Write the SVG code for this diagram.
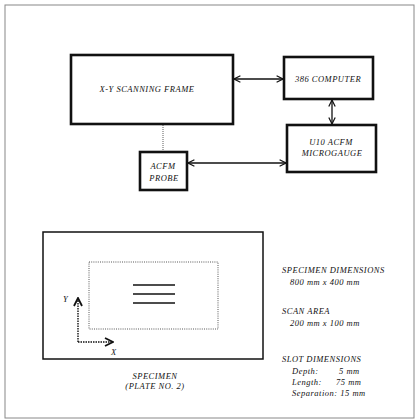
<svg xmlns="http://www.w3.org/2000/svg" width="418" height="420" viewBox="0 0 418 420">
<defs>
<style>
.box{fill:#fff;stroke:#111;stroke-width:2.6}
.t{font-family:"Liberation Serif","Times New Roman",serif;font-style:italic;font-size:8.5px;fill:#111;letter-spacing:0.5px}
.c{text-anchor:middle}
.ln{stroke:#111;stroke-width:1.3;fill:none}
</style>
<marker id="ah" viewBox="0 0 10 10" refX="9" refY="5" markerWidth="8" markerHeight="8" orient="auto-start-reverse" markerUnits="userSpaceOnUse">
<path d="M1,1 L9,5 L1,9" fill="none" stroke="#111" stroke-width="1.5"/>
</marker>
<marker id="ah2" viewBox="0 0 10 10" refX="9" refY="5" markerWidth="10" markerHeight="10" orient="auto" markerUnits="userSpaceOnUse">
<path d="M1,1 L9,5 L1,9" fill="none" stroke="#111" stroke-width="1.8"/>
</marker>
</defs>
<rect width="418" height="420" fill="#fff"/>
<rect x="5" y="5" width="409" height="413" fill="none" stroke="#888" stroke-width="1"/>

<g id="connectors">
<line class="ln" x1="234" y1="79" x2="283" y2="79" marker-start="url(#ah)" marker-end="url(#ah)"/>
<line class="ln" x1="332" y1="100" x2="332" y2="124" stroke-width="2" marker-start="url(#ah)" marker-end="url(#ah)"/>
<line class="ln" x1="188" y1="163" x2="286" y2="163" marker-start="url(#ah)" marker-end="url(#ah)"/>
<line x1="163" y1="125" x2="163" y2="151" stroke="#333" stroke-width="0.8" stroke-dasharray="1,1"/>
</g>

<g id="scanning-frame">
<rect class="box" x="71" y="55" width="162" height="69"/>
<text class="t c" x="147" y="92">X-Y SCANNING FRAME</text>
</g>
<g id="computer">
<rect class="box" x="284" y="57" width="89" height="42"/>
<text class="t c" x="328" y="82">386 COMPUTER</text>
</g>
<g id="microgauge">
<rect class="box" x="287" y="125" width="89" height="47"/>
<text class="t c" x="331" y="145">U10 ACFM</text>
<text class="t c" x="332" y="156">MICROGAUGE</text>
</g>
<g id="probe">
<rect class="box" x="140" y="152" width="47" height="38"/>
<text class="t c" x="163" y="169">ACFM</text>
<text class="t c" x="164" y="181">PROBE</text>
</g>

<g id="specimen">
<rect x="43" y="232" width="220" height="127" fill="none" stroke="#111" stroke-width="1.5"/>
<rect x="89" y="262" width="129" height="67" fill="none" stroke="#444" stroke-width="0.9" stroke-dasharray="1,1.2"/>
<line class="ln" x1="133" y1="285" x2="175" y2="285" stroke-width="1.5"/>
<line class="ln" x1="133" y1="294" x2="175" y2="294" stroke-width="1.5"/>
<line class="ln" x1="133" y1="303" x2="175" y2="303" stroke-width="1.5"/>
<path d="M78,342 L78,298" stroke="#111" stroke-width="1.4" stroke-dasharray="1.5,1" fill="none" marker-end="url(#ah2)"/>
<path d="M78,342 L113,342" stroke="#111" stroke-width="1.4" stroke-dasharray="1.5,1" fill="none" marker-end="url(#ah2)"/>
<text class="t" x="63" y="302">Y</text>
<text class="t" x="111" y="355">X</text>
<text class="t c" x="155" y="379">SPECIMEN</text>
<text class="t c" x="155" y="389">(PLATE NO. 2)</text>
</g>

<g id="notes">
<text class="t" x="282" y="273">SPECIMEN DIMENSIONS</text>
<text class="t" x="290" y="285">800 mm x 400 mm</text>
<text class="t" x="282" y="314">SCAN AREA</text>
<text class="t" x="290" y="326">200 mm x 100 mm</text>
<text class="t" x="282" y="362">SLOT DIMENSIONS</text>
<text class="t" x="292" y="374">Depth:</text>
<text class="t" x="339" y="374">5 mm</text>
<text class="t" x="292" y="385">Length:</text>
<text class="t" x="336" y="385">75 mm</text>
<text class="t" x="292" y="396">Separation: 15 mm</text>
</g>
</svg>
